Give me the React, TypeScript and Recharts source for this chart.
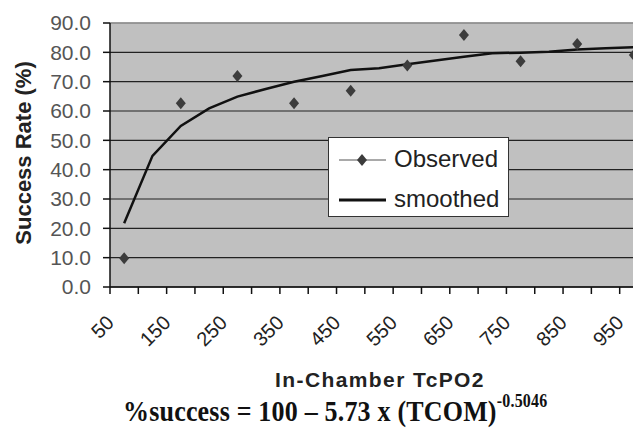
import React from 'react';
import {
  LineChart, Line, XAxis, YAxis, CartesianGrid, ReferenceLine, Label
} from 'recharts';

// categories on the x axis (TcPO2), one every 50
const tcpo2 = [50, 100, 150, 200, 250, 300, 350, 400, 450, 500, 550, 600, 650, 700, 750, 800, 850, 900, 950];
// observed success rate, only measured every 100
const observed = [9.8, null, 62.6, null, 71.9, null, 62.6, null, 66.9, null, 75.5, null, 85.9, null, 77.0, null, 82.8, null, 79.1];
// smoothed curve
const smoothed = [21.7, 44.7, 54.9, 60.9, 64.9, 67.5, 70.0, 71.9, 74.0, 74.6, 75.9, 77.2, 78.5, 79.7, 79.9, 80.2, 81.0, 81.4, 81.7];
const yTicks = [0, 10, 20, 30, 40, 50, 60, 70, 80, 90];
const xLabels = [50, 150, 250, 350, 450, 550, 650, 750, 850, 950];
// category boundaries carry the tick marks (Excel style)
const xBounds = [25, 75, 125, 175, 225, 275, 325, 375, 425, 475, 525, 575, 625, 675, 725, 775, 825, 875, 925, 975];
const xTicks = [...xBounds, ...xLabels].sort((a, b) => a - b);

const data = tcpo2.map((x, i) => ({ x, observed: observed[i], smoothed: smoothed[i] }));

const SANS = 'Arial, "Liberation Sans", sans-serif';
const SERIF = '"Times New Roman", "Liberation Serif", serif';

const Diamond = (props: any) => {
  const { cx, cy, value } = props;
  if (value == null || cx == null || cy == null) return <g />;
  return <path d={`M${cx},${cy - 6} L${cx + 5},${cy} L${cx},${cy + 6} L${cx - 5},${cy} Z`} fill="#3c3c3c" />;
};

const XTick = (props: any) => {
  const { x, y, payload } = props;
  if (xBounds.includes(payload.value)) {
    return <line x1={x} x2={x} y1={y} y2={y + 7} stroke="#111" strokeWidth={1.5} />;
  }
  return (
    <g transform={`translate(${x - 9},${y + 37})`}>
      <text textAnchor="end" transform="rotate(-45)" fontSize={20} fontFamily={SANS} fill="#222">
        {payload.value}
      </text>
    </g>
  );
};

const YTitle = () => (
  <text transform="translate(31,153) rotate(-90)" textAnchor="middle" fontSize={22} fontWeight="bold"
    fontFamily={SANS} fill="#222">
    Success Rate (%)
  </text>
);

const LegendBox = () => (
  <div style={{
    position: 'absolute', left: 328, top: 137,
    width: 179, height: 78, background: '#fff', border: '1px solid #333',
    fontFamily: SANS, fontSize: 24, color: '#222'
  }}>
    <svg width={60} height={78} style={{ position: 'absolute', left: 0, top: 0 }}>
      <line x1={10} x2={57} y1={22} y2={22} stroke="#555" strokeWidth={1} />
      <path d="M33,16 L38,22 L33,28 L28,22 Z" fill="#3c3c3c" />
      <line x1={10} x2={57} y1={62} y2={62} stroke="#111" strokeWidth={3} />
    </svg>
    <div style={{ position: 'absolute', left: 65, top: 7, lineHeight: '28px' }}>Observed</div>
    <div style={{ position: 'absolute', left: 65, top: 47, lineHeight: '28px' }}>smoothed</div>
  </div>
);

export default function App() {
  return (
    <div style={{ position: 'fixed', left: 0, top: 0, width: 633, height: 428, overflow: 'hidden', background: '#fff' }}>
      <LineChart width={660} height={350} data={data} margin={{ top: 23, right: 12, left: 0, bottom: 0 }}>
        <CartesianGrid fill="#c0c0c0" vertical={false} stroke="#222" strokeWidth={1.2} />
        <ReferenceLine y={90} stroke="#a0a0a0" strokeWidth={1.5} />
        <XAxis
          dataKey="x"
          type="number"
          domain={[25, 975]}
          ticks={xTicks}
          interval={0}
          tick={<XTick />}
          tickSize={0}
          tickMargin={0}
          tickLine={false}
          axisLine={{ stroke: '#111', strokeWidth: 1.5 }}
          height={63}
        />
        <YAxis
          domain={[0, 90]}
          ticks={yTicks}
          interval={0}
          tickFormatter={(v: number) => v.toFixed(1)}
          width={110}
          tickSize={7}
          tickMargin={12}
          tick={{ fontSize: 21, fill: '#555', fontFamily: SANS }}
          axisLine={{ stroke: '#111', strokeWidth: 1.5 }}
          tickLine={{ stroke: '#111', strokeWidth: 1.5 }}
        >
          <Label content={<YTitle />} />
        </YAxis>
        <Line
          dataKey="smoothed"
          type="linear"
          stroke="#111"
          strokeWidth={2.5}
          dot={false}
          isAnimationActive={false}
        />
        <Line
          dataKey="observed"
          type="linear"
          stroke="#555"
          strokeWidth={1}
          dot={<Diamond />}
          connectNulls={false}
          isAnimationActive={false}
        />
      </LineChart>
      <LegendBox />
      <svg width={633} height={428} style={{ position: 'absolute', left: 0, top: 0, pointerEvents: 'none' }}>
        <text x={380} y={387} textAnchor="middle" fontFamily={SANS} fontWeight="bold" fontSize={21}
          letterSpacing={1.4} fill="#222">
          In-Chamber TcPO2
        </text>
        <text transform="translate(123,421) scale(1,1.15)" fontFamily={SERIF} fontWeight="bold" fontSize={26}
          letterSpacing={0.2} fill="#111">
          %success = 100 – 5.73 x (TCOM)
          <tspan fontSize={16} dy={-12}>-0.5046</tspan>
        </text>
      </svg>
    </div>
  );
}
